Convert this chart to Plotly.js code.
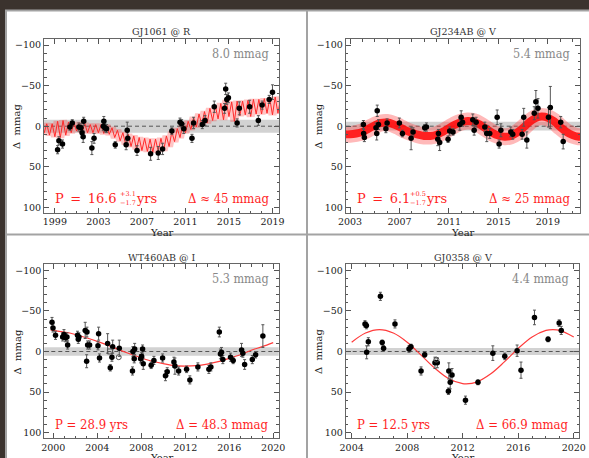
<!DOCTYPE html>
<html>
<head>
<meta charset="utf-8">
<script src="https://cdn.plot.ly/plotly-3.0.1.min.js"></script>
<style>
html,body{margin:0;padding:0;background:#3b332e;overflow:hidden;}
#chart{width:589px;height:458px;}
</style>
</head>
<body>
<div id="chart"></div>
<script>
// ---------- Panel 1: GJ1061 @ R ----------
const p1_t = [1999.25,1999.37,1999.7,2000.38,2000.6,2001.2,2001.4,2001.5,2001.6,2001.65,2002.4,2002.6,2003.45,2003.5,2003.6,2003.75,2004.55,2005.55,2005.65,2005.7,2006.55,2007.8,2008.5,2008.9,2009.75,2010.5,2010.65,2010.85,2011.6,2011.75,2012.55,2012.8,2013.65,2014.6,2014.7,2014.8,2014.95,2015.75,2015.95,2016.9,2017.7,2018.05,2018.7,2019.0];
const p1_v = [29,18,22,1,-4,1,2,8,13,-6,27,15,0,-6,2,3,23,23,5,15,30,34,33,28,6,-5,-3,3,15,-4,-2,-7,-24,-22,-46,-33,-35,-4,-22,-24,-7,-26,-33,-42];
const p1_e = [5,5,5,4,4,5,5,6,7,5,8,6,5,6,5,5,4,6,10,8,6,8,8,7,4,5,5,6,5,7,5,6,7,6,7,6,6,5,8,8,6,5,5,9];
const p1_mt = [1998,1998.25,1998.5,1998.75,1999,1999.25,1999.5,1999.75,2000,2000.25,2000.5,2000.75,2001,2001.25,2001.5,2001.75,2002,2002.25,2002.5,2002.75,2003,2003.25,2003.5,2003.75,2004,2004.25,2004.5,2004.75,2005,2005.25,2005.5,2005.75,2006,2006.25,2006.5,2006.75,2007,2007.25,2007.5,2007.75,2008,2008.25,2008.5,2008.75,2009,2009.25,2009.5,2009.75,2010,2010.25,2010.5,2010.75,2011,2011.25,2011.5,2011.75,2012,2012.25,2012.5,2012.75,2013,2013.25,2013.5,2013.75,2014,2014.25,2014.5,2014.75,2015,2015.25,2015.5,2015.75,2016,2016.25,2016.5,2016.75,2017,2017.25,2017.5,2017.75,2018,2018.25,2018.5,2018.75,2019,2019.25,2019.5,2019.75];
const p1_mv = [9,-3,11,-3,13,-6,14,-7,11,-5,8,-4,6,-4,7,-3,8,-2,8,-2,8,-2,9,-1,10,2,14,5,18,8,22,10,25,12,28,14,30,15,31,16,32,16,31,15,30,12,25,7,19,3,14,-2,8,-6,4,-11,1,-15,-2,-18,-4,-22,-7,-25,-9,-28,-8,-32,-12,-30,-6,-31,-13,-31,-14,-32,-12,-33,-15,-33,-15,-34,-16,-34,-14,-36,-16,-34];

// ---------- Panel 2: GJ234AB @ V ----------
const p2_t = [2004.08,2004.1,2004.16,2005.1,2005.2,2005.16,2005.3,2005.9,2006.0,2006.99,2007.24,2007.94,2008.1,2009.04,2009.18,2010.1,2010.15,2010.25,2010.93,2011.06,2011.33,2011.88,2011.99,2012.1,2012.93,2013.04,2013.2,2013.9,2014.06,2014.3,2014.9,2015.06,2015.2,2016.0,2016.16,2016.92,2017.05,2017.3,2017.9,2018.03,2018.2,2019.05,2019.2,2020.04,2020.24];
const p2_v = [-2,9,14,2,-19,9,-2,3,-4,-4,9,15,7,2,1,16,9,20,16,6,7,-2,-11,-5,-8,5,-5,1,9,9,-11,22,5,7,10,10,-11,17,-16,-30,-22,-11,-23,-5,19];
const p2_e = [5,5,5,6,7,8,6,5,5,6,4,14,5,4,5,8,5,10,4,5,4,7,8,5,7,6,6,6,10,6,9,5,8,6,6,6,11,10,8,14,12,12,26,7,9];
const p2_mt = [2002.5,2003,2003.5,2004,2004.5,2005,2005.5,2006,2006.5,2007,2007.5,2008,2008.5,2009,2009.5,2010,2010.5,2011,2011.5,2012,2012.5,2013,2013.5,2014,2014.5,2015,2015.5,2016,2016.5,2017,2017.5,2018,2018.5,2019,2019.5,2020,2020.5,2021,2021.5,2022];
const p2_mv = [10,10,9,7,3,-1,-4,-4.5,-2.5,1,5,8,10.5,12,12,10.5,7,2.5,-2,-5,-6.5,-5.5,-2,3,8,11.5,13,12,8,2,-5,-10,-12,-10.5,-6,1,7,11,13,13];

// ---------- Panel 3: WT460AB @ I ----------
const p3_t = [1999.88,1999.97,2000.2,2000.85,2000.97,2001.1,2001.24,2001.3,2002.2,2002.27,2002.33,2002.9,2003.03,2003.06,2003.12,2003.3,2004.06,2004.12,2004.2,2004.94,2005.18,2005.33,2005.4,2006.0,2007.2,2007.24,2007.36,2007.4,2007.94,2008.03,2008.12,2008.18,2008.9,2009.15,2009.94,2010.2,2010.36,2010.97,2011.06,2011.4,2012.12,2012.42,2013.15,2014.15,2014.33,2015.1,2015.2,2015.3,2015.42,2016.12,2016.36,2017.12,2017.24,2017.4,2018.1,2018.4,2019.06];
const p3_v = [-36,-29,-20,-18,-21,-17,-18,-8,-20,-15,-18,-26,12,-24,-8,-8,-7,-22,8,-10,20,7,-6,-4,24,0,9,-3,9,6,-3,15,17,11,8,30,25,13,18,24,22,35,19,22,19,-24,3,1,10,7,11,-2,2,16,10,4,-19];
const p3_e = [6,5,5,5,6,5,5,5,5,5,5,10,8,6,5,5,5,8,5,12,4,5,8,10,5,6,5,7,5,5,5,7,4,5,5,6,5,6,10,5,4,5,5,5,5,6,6,6,5,5,4,8,5,6,5,4,14];
const p3_ot = [2005.15, 2005.95];
const p3_ov = [0, 7];
const p3_mt = [1999.75,2000,2001,2002,2003,2004,2005,2006,2007,2008,2009,2010,2011,2012,2013,2014,2015,2016,2017,2018,2019,2020];
const p3_mv = [-26.5,-26,-24,-21,-17,-12.5,-7.5,-2,3,8,12,15,17.5,18,17.5,15.5,12.5,8.5,4,-1.5,-6,-11];

// ---------- Panel 4: GJ0358 @ V ----------
const p4_t = [2004.96,2005.06,2005.08,2005.2,2006.07,2006.2,2006.3,2007.12,2008.13,2008.27,2009.0,2009.26,2010.0,2010.17,2010.97,2011.0,2011.1,2011.23,2012.2,2013.1,2014.17,2015.03,2015.92,2016.2,2017.17,2018.15,2018.95,2019.1];
const p4_v = [-34,-32,1,-12,-68,-11,-4,-34,-3,-6,24,4,14,14,49,24,38,29,60,38,2,6,-1,23,-42,-15,-35,-26];
const p4_e = [4,4,8,5,5,3,3,5,4,3,5,3,7,6,4,10,8,8,5,3,9,4,7,10,9,3,4,5];
const p4_ot = [2010.1];
const p4_ov = [10];
const p4_mt = [2004,2005,2006,2007,2008,2009,2010,2011,2012,2012.25,2013,2014,2015,2016,2017,2018,2018.5,2019,2020];
const p4_mv = [-11.5,-22.8,-27,-22.8,-11.5,4.4,20.8,33.6,39.7,40,37.7,27.8,12.8,-3.8,-17.9,-26,-27,-26,-17.9];

// ---------- per-panel labels ----------
const titles = ["GJ1061 @ R","GJ234AB @ V","WT460AB @ I","GJ0358 @ V"];
const noiseLabels = ["8.0 mmag","5.4 mmag","5.3 mmag","4.4 mmag"];
const noiseVals = [8.0,5.4,5.3,4.4];
const periodMain = ["P\u2002=\u200216.6","P\u2002=\u20026.1","P = 28.9 yrs","P = 12.5 yrs"];
const periodSup = ["+3.1","+0.5",null,null];
const periodSub = ["\u22121.7","\u22121.7",null,null];
const ampLabels = ["\u0394 \u2248 45 mmag","\u0394 \u2248 25 mmag","\u0394 = 48.3 mmag","\u0394 = 66.9 mmag"];
const xMajor = [[1999,2003,2007,2011,2015,2019],[2003,2007,2011,2015,2019],[2000,2004,2008,2012,2016,2020],[2004,2008,2012,2016,2020]];
const yMajor = [-100,-50,0,50,100];
const yMajorText = ["\u2212100","\u221250","0","50","100"];

// ---------- layout geometry (pixels) ----------
const W = 589, H = 458;
const PX = v => v / W, PY = v => 1 - v / H;
const boxes = [
  {x0:44, x1:279, y0:39, y1:213, xr:[1998.0,2019.6]},
  {x0:345.7, x1:580, y0:39, y1:213, xr:[2002.65,2021.6]},
  {x0:44.3, x1:278.7, y0:264.3, y1:438.3, xr:[1999.18,2020.5]},
  {x0:345.7, x1:579.3, y0:264.3, y1:438.3, xr:[2003.57,2020.4]}
];
const scriptX = [117.5, 408];
const SERIF = "DejaVu Serif, serif";
const COND = "DejaVu Serif Condensed, DejaVu Serif, serif";
const RED = "#ff1f1f";

const traces = [];
const layout = {
  width: W, height: H,
  margin: {l:0, r:0, t:0, b:0},
  paper_bgcolor: "#3b332e",
  plot_bgcolor: "#ffffff",
  showlegend: false,
  shapes: [], annotations: []
};

layout.shapes.push({type:"rect", xref:"paper", yref:"paper", x0:PX(6), x1:1.02, y0:-0.02, y1:PY(10.5),
  fillcolor:"#ffffff", line:{color:"#a3a3a3", width:2}, layer:"below"});
layout.shapes.push({type:"line", xref:"paper", yref:"paper", x0:PX(307), x1:PX(307), y0:-0.02, y1:PY(10.5),
  line:{color:"#a3a3a3", width:2}, layer:"below"});
layout.shapes.push({type:"line", xref:"paper", yref:"paper", x0:PX(6), x1:1.02, y0:PY(234.5), y1:PY(234.5),
  line:{color:"#a3a3a3", width:2}, layer:"below"});

const data = [
  {t:p1_t, v:p1_v, e:p1_e, mt:p1_mt, mv:p1_mv},
  {t:p2_t, v:p2_v, e:p2_e, mt:p2_mt, mv:p2_mv},
  {t:p3_t, v:p3_v, e:p3_e, mt:p3_mt, mv:p3_mv, ot:p3_ot, ov:p3_ov},
  {t:p4_t, v:p4_v, e:p4_e, mt:p4_mt, mv:p4_mv, ot:p4_ot, ov:p4_ov}
];

data.forEach((d, i) => {
  const n = i + 1;
  const xa = "x" + (n === 1 ? "" : n), ya = "y" + (n === 1 ? "" : n);
  const xk = "xaxis" + (n === 1 ? "" : n), yk = "yaxis" + (n === 1 ? "" : n);
  const b = boxes[i];
  const tickfont = {family:SERIF, size:9.5, color:"#222"};
  layout[xk] = {
    domain:[PX(b.x0), PX(b.x1)], range:b.xr, anchor:ya,
    tickmode:"array", tickvals:xMajor[i], ticks:"inside", ticklen:5, tickwidth:1, tickcolor:"#555",
    minor:{dtick:1, ticks:"inside", ticklen:2.5, tickcolor:"#555", showgrid:false},
    showline:true, linecolor:"#666", linewidth:1, mirror:"allticks",
    showgrid:false, zeroline:false, tickfont:tickfont
  };
  layout[yk] = {
    domain:[PY(b.y1), PY(b.y0)], range:[107,-107.5], anchor:xa,
    tickmode:"array", tickvals:yMajor, ticktext:yMajorText, ticks:"inside", ticklen:5, tickwidth:1, tickcolor:"#555",
    minor:{dtick:10, ticks:"inside", ticklen:2.5, tickcolor:"#555", showgrid:false},
    showline:true, linecolor:"#666", linewidth:1, mirror:"allticks",
    showgrid:false, zeroline:false, tickfont:tickfont
  };
  layout.shapes.push({type:"rect", xref:xa+" domain", yref:ya, x0:0, x1:1, y0:-noiseVals[i], y1:noiseVals[i],
    fillcolor:"#d2d2d2", line:{width:0}, layer:"below"});
  layout.shapes.push({type:"line", xref:xa+" domain", yref:ya, x0:0, x1:1, y0:0, y1:0,
    line:{color:"#555", width:1, dash:"4px,3px"}, layer:"below"});

  if (i === 0) {
    traces.push({x:d.mt, y:d.mv, xaxis:xa, yaxis:ya, mode:"lines", line:{color:"rgba(255,60,60,0.3)", width:8}});
    traces.push({x:d.mt, y:d.mv, xaxis:xa, yaxis:ya, mode:"lines", line:{color:"#ff2a2a", width:1}});
  } else if (i === 1) {
    traces.push({x:d.mt, y:d.mv, xaxis:xa, yaxis:ya, mode:"lines", line:{color:"rgba(255,60,60,0.36)", width:17, shape:"spline"}});
    traces.push({x:d.mt, y:d.mv, xaxis:xa, yaxis:ya, mode:"lines", line:{color:"rgba(255,10,10,0.88)", width:8, shape:"spline"}});
  } else {
    traces.push({x:d.mt, y:d.mv, xaxis:xa, yaxis:ya, mode:"lines", line:{color:"#ff3b3b", width:1.2, shape:"spline"}});
  }
  traces.push({x:d.t, y:d.v, xaxis:xa, yaxis:ya, mode:"markers", type:"scatter",
    marker:{color:"#000", size:5.5},
    error_y:{type:"data", array:d.e, visible:true, color:"#555", thickness:1, width:1.5}});
  if (d.ot) {
    traces.push({x:d.ot, y:d.ov, xaxis:xa, yaxis:ya, mode:"markers",
      marker:{color:"#555", size:5, symbol:i===2 ? ["square-open","circle-open"] : ["circle-open"], line:{width:1, color:"#555"}}});
  }

  const cx = (b.x0 + b.x1) / 2;
  layout.annotations.push({xref:"paper", yref:"paper", x:PX(cx), y:PY(b.y0 - 7), text:titles[i],
    showarrow:false, xanchor:"center", yanchor:"middle", font:{family:SERIF, size:9.5, color:"#333"}});
  layout.annotations.push({xref:"paper", yref:"paper", x:PX(b.x1 - 8), y:PY(b.y0 + 14), text:noiseLabels[i],
    showarrow:false, xanchor:"right", yanchor:"middle", font:{family:COND, size:12.5, color:"#888"}});
  layout.annotations.push({xref:"paper", yref:"paper", x:PX(b.x0 + 9), y:PY(b.y1 - 14), text:periodMain[i],
    showarrow:false, xanchor:"left", yanchor:"middle", font:{family:(i < 2 ? SERIF : COND), size:13, color:RED}});
  if (periodSup[i]) {
    const sx = scriptX[i];
    layout.annotations.push({xref:"paper", yref:"paper", x:PX(sx), y:PY(b.y1 - 18.5), text:periodSup[i],
      showarrow:false, xanchor:"left", yanchor:"middle", font:{family:SERIF, size:6.5, color:RED}});
    layout.annotations.push({xref:"paper", yref:"paper", x:PX(sx), y:PY(b.y1 - 10.5), text:periodSub[i],
      showarrow:false, xanchor:"left", yanchor:"middle", font:{family:SERIF, size:6.5, color:RED}});
    layout.annotations.push({xref:"paper", yref:"paper", x:PX(sx + 16), y:PY(b.y1 - 14), text:"yrs",
      showarrow:false, xanchor:"left", yanchor:"middle", font:{family:SERIF, size:13, color:RED}});
  }
  layout.annotations.push({xref:"paper", yref:"paper", x:PX(b.x1 - 8), y:PY(b.y1 - 14), text:ampLabels[i],
    showarrow:false, xanchor:"right", yanchor:"middle", font:{family:COND, size:13, color:RED}});
  layout.annotations.push({xref:"paper", yref:"paper", x:PX(b.x0 - 27), y:PY((b.y0 + b.y1) / 2), text:"\u0394  mmag",
    textangle:-90, showarrow:false, xanchor:"center", yanchor:"middle", font:{family:SERIF, size:10, color:"#222"}});
  layout.annotations.push({xref:"paper", yref:"paper", x:PX(cx), y:PY(b.y1 + 19.5), text:"Year",
    showarrow:false, xanchor:"center", yanchor:"middle", font:{family:SERIF, size:10, color:"#222"}});
});

Plotly.newPlot("chart", traces, layout, {staticPlot:true, displayModeBar:false});
</script>
</body>
</html>
